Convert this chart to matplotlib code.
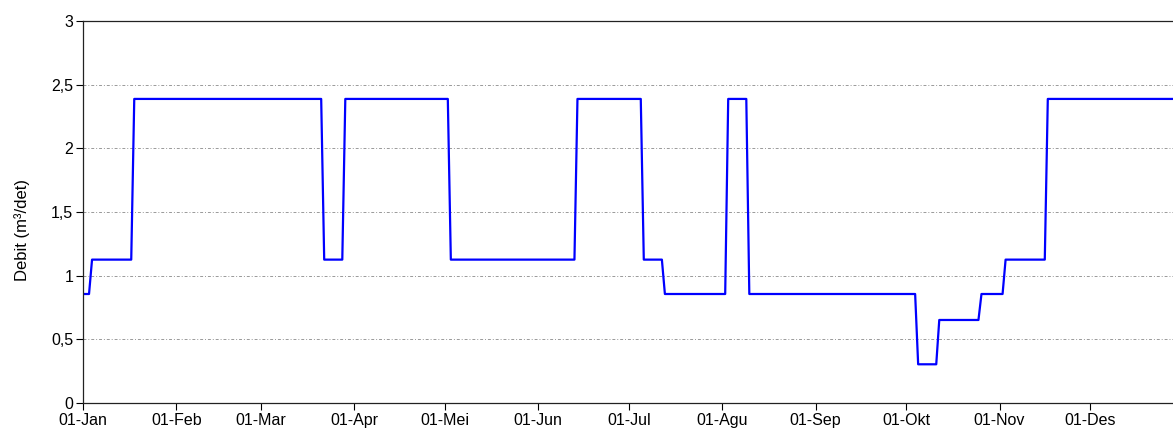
import numpy as np
import matplotlib
matplotlib.use('Agg')
import matplotlib.pyplot as plt

# ── data ──────────────────────────────────────────────────────────────────────
# day-of-year where each constant discharge level starts, and the level (m3/det)
run_start = [0, 3, 17, 80, 87, 122, 164, 186, 193, 214, 221, 277, 284, 298, 306, 320]
run_value = [0.856, 1.126, 2.388, 1.126, 2.388, 1.126, 2.388, 1.126, 0.856,
             2.388, 0.856, 0.304, 0.652, 0.856, 1.126, 2.388]
n_days = 365

month_start = [0, 31, 59, 90, 120, 151, 181, 212, 243, 273, 304, 334]
month_label = ['01-Jan', '01-Feb', '01-Mar', '01-Apr', '01-Mei', '01-Jun',
               '01-Jul', '01-Agu', '01-Sep', '01-Okt', '01-Nov', '01-Des']

y_ticks = [0, 0.5, 1, 1.5, 2, 2.5, 3]
y_labels = ['0', '0,5', '1', '1,5', '2', '2,5', '3']

# daily series from the runs
lengths = np.diff(run_start + [n_days])
debit = np.repeat(run_value, lengths)
days = np.arange(n_days)

# ── plot ──────────────────────────────────────────────────────────────────────
plt.rcParams['font.family'] = ['Liberation Sans', 'DejaVu Sans']

fig = plt.figure(figsize=(11.73, 4.32), dpi=100)
ax = fig.add_axes([83 / 1173, 29 / 432, 1 - 83 / 1173, 382 / 432])

ax.plot(days, debit, color='#0000ff', lw=1.6)

ax.set_xlim(0, (1173 - 83) / 3.015)
ax.set_ylim(0, 3)
ax.set_xticks(month_start)
ax.set_xticklabels(month_label)
ax.set_yticks(y_ticks)
ax.set_yticklabels(y_labels)
ax.tick_params(direction='out', length=5, width=0.8, labelsize=11.5, pad=2)

for v in y_ticks[1:-1]:
    ax.axhline(v, color='#999999', lw=0.7, ls=(0, (3, 2, 1, 2)), zorder=0)

ax.spines['right'].set_visible(False)
for s in ('left', 'bottom', 'top'):
    ax.spines[s].set_linewidth(0.9)
    ax.spines[s].set_color('#222222')

ax.set_ylabel('Debit (m³/det)', fontsize=12)
ax.yaxis.set_label_coords(-0.049, 0.453)

fig.savefig('out.png', dpi=100)
